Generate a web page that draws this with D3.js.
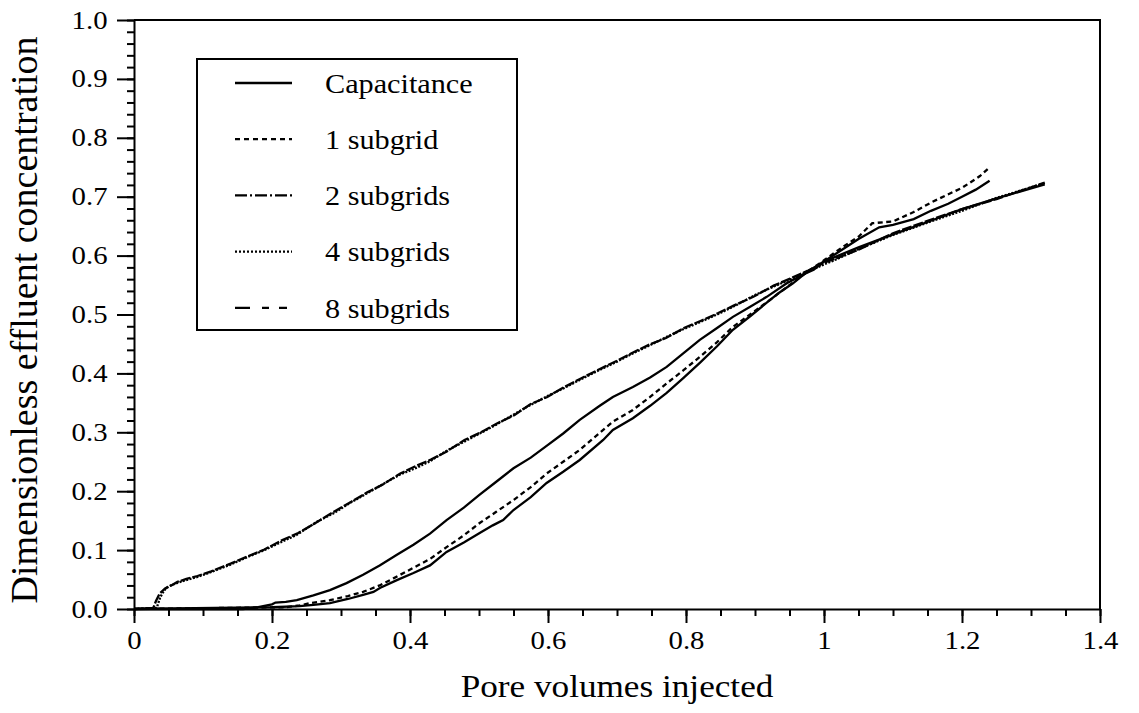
<!DOCTYPE html>
<html lang="en">
<head>
  <meta charset="UTF-8">
  <title>Effluent concentration</title>
  <script src="https://d3js.org/d3.v7.min.js"></script>
  <style>
    body {
      margin: 0;
      background-color: #ffffff;
    }
    svg text {
      font-family: "Liberation Serif", "Times New Roman", Times, serif;
      fill: #000000;
    }
    .axis path, .axis line {
      stroke: #000000;
      stroke-width: 2px;
    }
  </style>
</head>
<body>
  <div id="chart"></div>

  <script>
    // Data: [pore volumes, concentration]
    const capacitance = [
      [0, 0], [0.2, 0.003], [0.24, 0.005], [0.26, 0.007], [0.284, 0.01], [0.31, 0.017],
      [0.332, 0.024], [0.347, 0.029], [0.357, 0.036], [0.381, 0.049], [0.405, 0.061],
      [0.429, 0.074], [0.453, 0.097], [0.478, 0.113], [0.501, 0.129], [0.52, 0.142],
      [0.535, 0.151], [0.55, 0.168], [0.575, 0.19], [0.598, 0.214], [0.622, 0.233],
      [0.646, 0.253], [0.68, 0.287], [0.694, 0.304], [0.723, 0.324], [0.748, 0.345],
      [0.772, 0.367], [0.796, 0.392], [0.82, 0.418], [0.845, 0.446], [0.868, 0.474],
      [0.893, 0.497], [0.917, 0.52], [0.935, 0.537], [0.955, 0.553], [0.975, 0.572],
      [1.0, 0.59], [1.03, 0.613], [1.05, 0.628], [1.08, 0.648], [1.1, 0.652],
      [1.13, 0.662], [1.155, 0.676], [1.18, 0.688], [1.2, 0.70], [1.22, 0.712], [1.24, 0.727]
    ];
    const subgrid1 = [
      [0, 0], [0.22, 0.003], [0.24, 0.006], [0.255, 0.01], [0.284, 0.015], [0.31, 0.022],
      [0.332, 0.029], [0.356, 0.04], [0.376, 0.052], [0.405, 0.07], [0.429, 0.085],
      [0.453, 0.105], [0.478, 0.125], [0.501, 0.146], [0.525, 0.165], [0.55, 0.185],
      [0.575, 0.207], [0.598, 0.23], [0.622, 0.25], [0.646, 0.27], [0.675, 0.299],
      [0.694, 0.318], [0.723, 0.338], [0.748, 0.36], [0.772, 0.383], [0.796, 0.405],
      [0.82, 0.428], [0.845, 0.453], [0.868, 0.479], [0.895, 0.502], [0.922, 0.525],
      [0.95, 0.55], [0.975, 0.572], [1.0, 0.592], [1.03, 0.617], [1.05, 0.632],
      [1.07, 0.655], [1.09, 0.657], [1.1, 0.658], [1.13, 0.674], [1.155, 0.69],
      [1.178, 0.703], [1.2, 0.715], [1.226, 0.735], [1.24, 0.75]
    ];
    const subgrid2 = [
      [0, 0], [0.158, 0], [0.18, 0.003], [0.2, 0.008], [0.205, 0.011], [0.22, 0.012],
      [0.236, 0.015], [0.26, 0.023], [0.284, 0.032], [0.308, 0.044], [0.332, 0.058],
      [0.356, 0.074], [0.381, 0.092], [0.405, 0.109], [0.429, 0.128], [0.453, 0.151],
      [0.478, 0.172], [0.501, 0.194], [0.525, 0.216], [0.55, 0.239], [0.575, 0.257],
      [0.598, 0.277], [0.622, 0.298], [0.646, 0.321], [0.675, 0.345], [0.694, 0.36],
      [0.723, 0.377], [0.748, 0.393], [0.772, 0.411], [0.796, 0.434], [0.82, 0.457],
      [0.845, 0.477], [0.868, 0.496], [0.893, 0.513], [0.917, 0.53], [0.946, 0.553],
      [0.97, 0.568], [0.985, 0.576], [1.0, 0.59], [1.05, 0.614], [1.1, 0.636],
      [1.15, 0.657], [1.2, 0.679], [1.25, 0.697], [1.32, 0.721]
    ];
    const subgrid4 = [
      [0, 0], [0.033, 0.002], [0.038, 0.02], [0.043, 0.03], [0.047, 0.036], [0.055, 0.041],
      [0.062, 0.044], [0.075, 0.049], [0.091, 0.054], [0.11, 0.062], [0.139, 0.075],
      [0.168, 0.09], [0.187, 0.099], [0.216, 0.115], [0.236, 0.126], [0.265, 0.148],
      [0.29, 0.163], [0.313, 0.18], [0.337, 0.196], [0.361, 0.212], [0.385, 0.228],
      [0.41, 0.24], [0.429, 0.251], [0.455, 0.27], [0.48, 0.285], [0.501, 0.298],
      [0.525, 0.313], [0.55, 0.33], [0.574, 0.346], [0.6, 0.362], [0.623, 0.375],
      [0.646, 0.389], [0.675, 0.406], [0.7, 0.42], [0.723, 0.434], [0.748, 0.448],
      [0.772, 0.462], [0.796, 0.475], [0.82, 0.487], [0.845, 0.5], [0.868, 0.513],
      [0.9, 0.533], [0.926, 0.547], [0.95, 0.559], [0.975, 0.572], [1.0, 0.585],
      [1.013, 0.591], [1.052, 0.612], [1.1, 0.635], [1.15, 0.656], [1.2, 0.676],
      [1.25, 0.698], [1.32, 0.723]
    ];
    const subgrid8 = [
      [0, 0], [0.028, 0.002], [0.032, 0.014], [0.037, 0.026], [0.045, 0.035], [0.054, 0.04],
      [0.063, 0.046], [0.076, 0.051], [0.092, 0.056], [0.112, 0.064], [0.14, 0.077],
      [0.166, 0.09], [0.189, 0.101], [0.215, 0.117], [0.238, 0.129], [0.263, 0.146],
      [0.291, 0.166], [0.315, 0.182], [0.338, 0.198], [0.36, 0.211], [0.386, 0.23],
      [0.409, 0.243], [0.431, 0.254], [0.454, 0.268], [0.479, 0.287], [0.503, 0.3],
      [0.526, 0.315], [0.551, 0.329], [0.575, 0.348], [0.599, 0.36], [0.624, 0.377],
      [0.647, 0.391], [0.676, 0.408], [0.701, 0.422], [0.724, 0.436], [0.749, 0.45],
      [0.771, 0.46], [0.797, 0.477], [0.821, 0.489], [0.846, 0.502], [0.869, 0.515],
      [0.899, 0.531], [0.927, 0.549], [0.951, 0.561], [0.976, 0.574], [1.0, 0.588],
      [1.015, 0.594], [1.05, 0.61], [1.1, 0.638], [1.15, 0.659], [1.2, 0.679],
      [1.25, 0.696], [1.32, 0.724]
    ];

    const seriesNames = ['Capacitance', '1 subgrid', '2 subgrids', '4 subgrids', '8 subgrids'];
    const seriesData = [capacitance, subgrid1, subgrid2, subgrid4, subgrid8];

    const xTicks = [0, 0.2, 0.4, 0.6, 0.8, 1, 1.2, 1.4];
    const xTickLabels = ['0', '0.2', '0.4', '0.6', '0.8', '1', '1.2', '1.4'];
    const yTicks = [0, 0.1, 0.2, 0.3, 0.4, 0.5, 0.6, 0.7, 0.8, 0.9, 1.0];
    const yTickLabels = ['0.0', '0.1', '0.2', '0.3', '0.4', '0.5', '0.6', '0.7', '0.8', '0.9', '1.0'];

    // line styles: legend swatch dashes and the dashes used on the curves
    const legendDash = [null, '5,4', '12,3,2,3', '2,2', '15,12,7,10,8'];
    const curveDash = [null, '5,3.5', null, '2,1.5', '10,2'];

    const width = 1139, height = 713;
    const margin = { top: 20, right: 39, bottom: 104, left: 134 };
    const innerW = width - margin.left - margin.right;
    const innerH = height - margin.top - margin.bottom;

    const svg = d3.select('#chart')
      .append('svg')
      .attr('width', width)
      .attr('height', height);

    const g = svg.append('g')
      .attr('transform', `translate(${margin.left},${margin.top})`);

    const x = d3.scaleLinear().domain([0, 1.4]).range([0, innerW]);
    const y = d3.scaleLinear().domain([0, 1]).range([innerH, 0]);

    // frame (top and right)
    g.append('path')
      .attr('d', `M0,0H${innerW}V${innerH}`)
      .attr('fill', 'none')
      .attr('stroke', '#000')
      .attr('stroke-width', 2);

    // minor ticks
    g.append('g')
      .attr('class', 'axis')
      .attr('transform', `translate(0,${innerH})`)
      .call(d3.axisBottom(x).tickValues(d3.range(0, 1.4001, 0.05)).tickSize(7).tickFormat(''))
      .call(a => a.select('.domain').remove());
    g.append('g')
      .attr('class', 'axis')
      .call(d3.axisLeft(y).tickValues(d3.range(0, 1.0001, 0.02)).tickSize(7).tickFormat(''))
      .call(a => a.select('.domain').remove());

    // major ticks with labels
    const xAxis = g.append('g')
      .attr('class', 'axis')
      .attr('transform', `translate(0,${innerH})`)
      .call(d3.axisBottom(x).tickValues(xTicks).tickSize(14).tickSizeOuter(0)
        .tickFormat((d, i) => xTickLabels[i]));
    xAxis.selectAll('text')
      .attr('y', 22)
      .attr('dy', '0.71em')
      .style('font-size', '25px')
      .attr('transform', 'scale(1.15,1)');

    const yAxis = g.append('g')
      .attr('class', 'axis')
      .call(d3.axisLeft(y).tickValues(yTicks).tickSize(17).tickSizeOuter(0)
        .tickFormat((d, i) => yTickLabels[i]));
    yAxis.selectAll('text')
      .attr('x', -23)
      .style('font-size', '25px')
      .attr('transform', 'scale(1.15,1)');

    // curves
    const line = d3.line()
      .x(d => x(d[0]))
      .y(d => y(d[1]));

    g.selectAll('.curve')
      .data(seriesData)
      .enter()
      .append('path')
      .attr('class', 'curve')
      .attr('d', line)
      .attr('fill', 'none')
      .attr('stroke', '#000')
      .attr('stroke-width', 2.3)
      .attr('stroke-dasharray', (d, i) => curveDash[i]);

    // legend
    const legend = svg.append('g').attr('transform', 'translate(197,59)');
    legend.append('rect')
      .attr('width', 320)
      .attr('height', 271)
      .attr('fill', '#fff')
      .attr('stroke', '#000')
      .attr('stroke-width', 2);

    seriesNames.forEach((name, i) => {
      const row = legend.append('g').attr('transform', `translate(0,${24 + i * 56.2})`);
      row.append('line')
        .attr('x1', 38).attr('x2', 95)
        .attr('stroke', '#000')
        .attr('stroke-width', 2.3)
        .attr('stroke-dasharray', legendDash[i]);
      row.append('text')
        .attr('x', 128 / 1.08)
        .attr('dy', '0.35em')
        .attr('transform', 'scale(1.08,1)')
        .style('font-size', '28px')
        .text(name);
    });

    // axis titles
    svg.append('text')
      .attr('transform', `translate(617,697) scale(1.1,1)`)
      .attr('text-anchor', 'middle')
      .style('font-size', '32px')
      .text('Pore volumes injected');

    svg.append('text')
      .attr('transform', `translate(37,320) rotate(-90)`)
      .attr('text-anchor', 'middle')
      .style('font-size', '38px')
      .text('Dimensionless effluent concentration');
  </script>
</body>
</html>
